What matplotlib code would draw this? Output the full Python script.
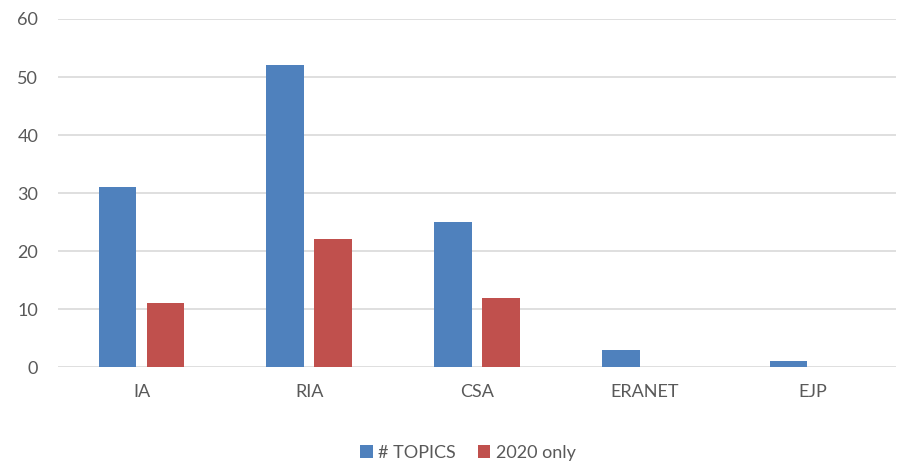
import numpy as np
import matplotlib.pyplot as plt

plt.rcParams['font.family'] = ['Lato', 'DejaVu Sans']

# Datos
categorias = ['IA', 'RIA', 'CSA', 'ERANET', 'EJP']
topics = [31, 52, 25, 3, 1]
solo_2020 = [11, 22, 12, 0, 0]

x = np.arange(len(categorias))
ancho = 0.226
gris = '#595959'

fig = plt.figure(figsize=(9, 4.63), dpi=100)
ax = fig.add_axes([0.064, 0.207, 0.932, 0.752])

ax.bar(x - 0.03 - ancho / 2, topics, ancho, color='#4F81BD', label='# TOPICS', zorder=3)
ax.bar(x + 0.03 + ancho / 2, solo_2020, ancho, color='#C0504D', label='2020 only', zorder=3)

ax.set_xlim(-0.5, len(categorias) - 0.5)
ax.set_ylim(0, 60)
ax.set_yticks(range(0, 61, 10))
ax.set_xticks(x)
ax.set_xticklabels(categorias)
ax.grid(axis='y', color='#D9D9D9', linewidth=1.2, zorder=0)
for s in ax.spines.values():
    s.set_visible(False)
ax.tick_params(length=0, labelsize=13, labelcolor=gris)
ax.tick_params(axis='x', pad=12)
ax.tick_params(axis='y', pad=14)

fig.legend(loc='center', bbox_to_anchor=(0.52, 0.022), ncol=2, frameon=False,
           fontsize=13, labelcolor=gris, handlelength=0.7, handleheight=0.7,
           handletextpad=0.3, columnspacing=1.2)

fig.savefig('out.png', dpi=100)
